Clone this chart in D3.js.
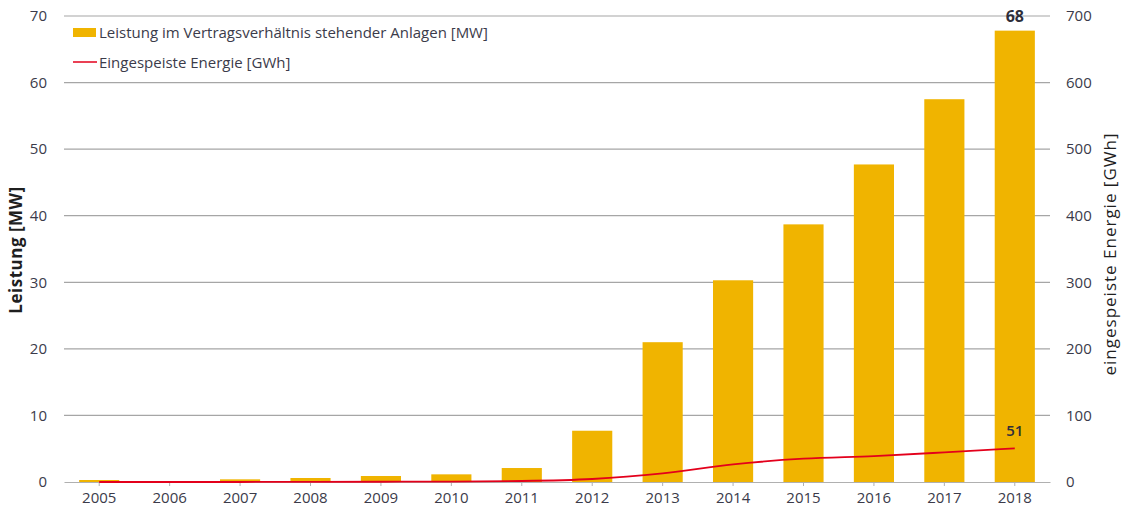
<!DOCTYPE html>
<html>
<head>
<meta charset="utf-8">
<script src="https://cdn.jsdelivr.net/npm/d3@7"></script>
<style>
  body { margin: 0; background: #fff; }
  svg { display: block; font-family: 'Open Sans', 'Noto Sans', sans-serif; }
</style>
</head>
<body>
<div id="chart"></div>
<script>
const years = ['2005', '2006', '2007', '2008', '2009', '2010', '2011', '2012', '2013', '2014', '2015', '2016', '2017', '2018']
// Leistung im Vertragsverhältnis stehender Anlagen [MW]
const leistung = [0.3, 0.05, 0.4, 0.6, 0.9, 1.15, 2.1, 7.7, 21.0, 30.3, 38.7, 47.7, 57.5, 67.8]
// Eingespeiste Energie [GWh]
const energie = [0, 0, 0, 0.2, 0.4, 0.7, 1.5, 4.5, 13, 26.5, 35, 39, 44.5, 50.5]
const leftTicks = [0, 10, 20, 30, 40, 50, 60, 70]
const rightTicks = [0, 100, 200, 300, 400, 500, 600, 700]

const width = 1122
const height = 509
const margin = { top: 16, right: 72, bottom: 27, left: 64 }
const textColor = '#3b3b4a'
const barColor = '#f0b400'
const lineColor = '#e3001b'
const fontFamily = "'Open Sans', 'Noto Sans', sans-serif"

const svg = d3.select('#chart')
  .append('svg')
  .attr('width', width)
  .attr('height', height)

const x = d3.scaleBand()
  .domain(years)
  .range([margin.left, width - margin.right])
  .paddingInner(0.43)
  .paddingOuter(0.215)

const yLeft = d3.scaleLinear()
  .domain([0, 70])
  .range([height - margin.bottom, margin.top])

const yRight = d3.scaleLinear()
  .domain([0, 700])
  .range([height - margin.bottom, margin.top])

// gridlines
svg.append('g')
  .selectAll('line')
  .data(leftTicks.filter(d => d > 0))
  .join('line')
  .attr('x1', margin.left)
  .attr('x2', width - margin.right)
  .attr('y1', d => yLeft(d))
  .attr('y2', d => yLeft(d))
  .attr('stroke', '#a6a6a6')
  .attr('stroke-width', 1.2)

// bars
svg.append('g')
  .selectAll('rect')
  .data(leistung)
  .join('rect')
  .attr('x', (d, i) => x(years[i]))
  .attr('width', x.bandwidth())
  .attr('y', d => yLeft(d))
  .attr('height', d => yLeft(0) - yLeft(d))
  .attr('fill', barColor)

const styleTicks = (g) => g.selectAll('text')
  .attr('fill', textColor)
  .style('font-family', fontFamily)
  .style('font-size', '15px')

// bottom axis
const xAxis = svg.append('g')
  .attr('transform', `translate(0,${yLeft(0)})`)
  .call(d3.axisBottom(x).tickSize(4).tickSizeOuter(0).tickPadding(6))
xAxis.select('.domain').attr('stroke', '#b0b0b0').attr('stroke-width', 1.2)
xAxis.selectAll('.tick line').attr('stroke', '#b0b0b0')
xAxis.call(styleTicks)

// left axis
const lAxis = svg.append('g')
  .attr('transform', `translate(${margin.left},0)`)
  .call(d3.axisLeft(yLeft).tickValues(leftTicks).tickSize(0).tickPadding(17))
lAxis.select('.domain').remove()
lAxis.call(styleTicks)

// right axis
const rAxis = svg.append('g')
  .attr('transform', `translate(${width - margin.right},0)`)
  .call(d3.axisRight(yRight).tickValues(rightTicks).tickSize(0).tickPadding(16))
rAxis.select('.domain').remove()
rAxis.call(styleTicks)

// energy line
const line = d3.line()
  .x((d, i) => x(years[i]) + x.bandwidth() / 2)
  .y(d => yRight(d))
  .curve(d3.curveMonotoneX)

svg.append('path')
  .datum(energie)
  .attr('d', line)
  .attr('fill', 'none')
  .attr('stroke', lineColor)
  .attr('stroke-width', 1.8)

// value labels
const last = years.length - 1
svg.append('text')
  .attr('x', x(years[last]) + x.bandwidth() / 2)
  .attr('y', yLeft(leistung[last]) - 9)
  .attr('text-anchor', 'middle')
  .attr('fill', '#2e2e3a')
  .style('font-size', '16px')
  .style('font-weight', 'bold')
  .text(Math.round(leistung[last]))

svg.append('text')
  .attr('x', x(years[last]) + x.bandwidth() / 2)
  .attr('y', yRight(energie[last]) - 12)
  .attr('text-anchor', 'middle')
  .attr('fill', '#2e2e3a')
  .style('font-size', '15px')
  .style('font-weight', 600)
  .text(Math.round(energie[last]))

// axis titles
svg.append('text')
  .attr('transform', 'translate(22,250) rotate(-90)')
  .attr('text-anchor', 'middle')
  .attr('fill', '#1f1f1f')
  .style('font-size', '17px')
  .style('font-weight', 'bold')
  .style('letter-spacing', '0.5px')
  .text('Leistung [MW]')

svg.append('text')
  .attr('transform', 'translate(1116,254) rotate(-90)')
  .attr('text-anchor', 'middle')
  .attr('fill', '#1f1f1f')
  .style('font-size', '17px')
  .style('letter-spacing', '1px')
  .text('eingespeiste Energie [GWh]')

// legend
const legend = svg.append('g').attr('transform', 'translate(73,0)')
legend.append('rect')
  .attr('x', 0)
  .attr('y', 28)
  .attr('width', 23)
  .attr('height', 9)
  .attr('fill', barColor)
legend.append('text')
  .attr('x', 26)
  .attr('y', 38)
  .attr('fill', textColor)
  .style('font-size', '15px')
  .text('Leistung im Vertragsverhältnis stehender Anlagen [MW]')
legend.append('line')
  .attr('x1', 0)
  .attr('x2', 24)
  .attr('y1', 62)
  .attr('y2', 62)
  .attr('stroke', lineColor)
  .attr('stroke-width', 1.5)
legend.append('text')
  .attr('x', 26)
  .attr('y', 68)
  .attr('fill', textColor)
  .style('font-size', '15px')
  .text('Eingespeiste Energie [GWh]')
</script>
</body>
</html>
